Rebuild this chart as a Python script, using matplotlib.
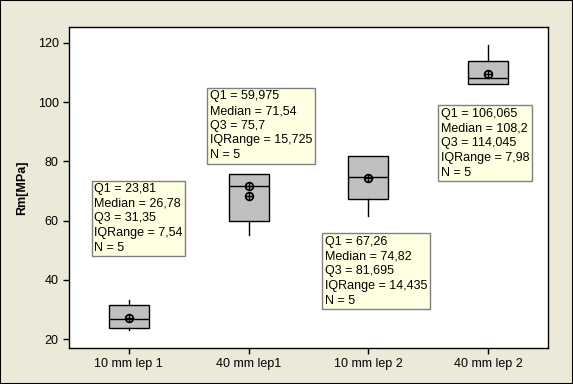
import numpy as np
import matplotlib.pyplot as plt
from matplotlib.patches import Rectangle

# groups and box statistics
groups = ["10 mm lep 1", "40 mm lep1", "10 mm lep 2", "40 mm lep 2"]
q1 = [23.81, 59.975, 67.26, 106.065]
median = [26.78, 71.54, 74.82, 108.2]
q3 = [31.35, 75.7, 81.695, 114.045]
iqr = [7.54, 15.725, 14.435, 7.98]
n = [5, 5, 5, 5]
whisker_low = [23.0, 55.1, 61.6, 106.065]
whisker_high = [33.2, 75.7, 81.695, 119.3]
# circled-plus symbols drawn inside each box
symbols = [[27.0], [71.8, 68.4], [74.3], [109.4]]

# top-left corner of each info box (data coords)
label_pos = [(0.686, 73.7), (1.652, 105.0), (2.612, 55.9), (3.581, 99.05)]


def fmt(v):
    return f"{v:g}".replace(".", ",")


fig = plt.figure(figsize=(5.73, 3.84), dpi=100)
fig.patch.set_facecolor("#ECE9D8")
fig.patches.append(Rectangle((0, 0), 1, 1, transform=fig.transFigure,
                             fill=False, ec="black", lw=1.5))
ax = fig.add_axes([0.1204, 0.09375, 0.836, 0.836])
ax.set_facecolor("white")

pos = np.arange(1, len(groups) + 1)
stats = []
for i in range(len(groups)):
    stats.append(dict(q1=q1[i], med=median[i], q3=q3[i],
                      whislo=whisker_low[i], whishi=whisker_high[i],
                      fliers=[]))

ax.bxp(stats, positions=pos, widths=0.334, patch_artist=True,
       showcaps=False,
       boxprops=dict(facecolor="#C0C0C0", edgecolor="black", lw=1),
       medianprops=dict(color="black", lw=1),
       whiskerprops=dict(color="black", lw=1))

for p, ys in zip(pos, symbols):
    ax.plot([p] * len(ys), ys, ls="none", marker="o", ms=5.5,
            mfc="none", mec="black", mew=1.3)
    ax.plot([p] * len(ys), ys, ls="none", marker="+", ms=5.5,
            color="black", mew=1)

for i, (x, y) in enumerate(label_pos):
    txt = (f"Q1 = {fmt(q1[i])}\nMedian = {fmt(median[i])}\n"
           f"Q3 = {fmt(q3[i])}\nIQRange = {fmt(iqr[i])}\nN = {n[i]}")
    ax.annotate(txt, xy=(x, y), xytext=(3, -3), textcoords="offset pixels",
                ha="left", va="top", fontsize=9, family="Liberation Sans",
                linespacing=1.3, color="black",
                bbox=dict(boxstyle="square,pad=0.2", fc="#FFFFE1",
                          ec="#808080", lw=1))

ax.set_xlim(0.5, 4.5)
ax.set_ylim(16.96, 125.4)
ax.set_xticks(pos)
ax.set_xticklabels(groups)
ax.set_yticks([20, 40, 60, 80, 100, 120])
ax.tick_params(labelsize=9, length=4, width=1, color="black")
for t in ax.get_xticklabels() + ax.get_yticklabels():
    t.set_family("Liberation Sans")
for s in ax.spines.values():
    s.set_linewidth(1)
ax.set_ylabel("Rm[MPa]", fontsize=9, fontweight="bold",
              family="Liberation Sans", labelpad=7)

fig.savefig("out.png", dpi=100, facecolor=fig.get_facecolor())
